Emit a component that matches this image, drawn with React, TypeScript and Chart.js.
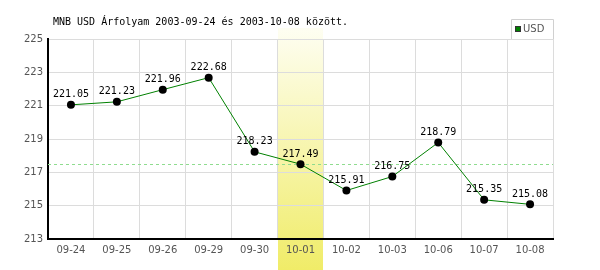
import React, { useEffect, useRef } from "react";
import { Chart, registerables } from "chart.js";

Chart.register(...registerables);

const TITLE = "MNB USD Árfolyam 2003-09-24 és 2003-10-08 között.";
const SERIES_NAME = "USD";
const categories = ["09-24", "09-25", "09-26", "09-29", "09-30", "10-01", "10-02", "10-03", "10-06", "10-07", "10-08"];
const usdValues = [221.05, 221.23, 221.96, 222.68, 218.23, 217.49, 215.91, 216.75, 218.79, 215.35, 215.08];
const highlightIndex = 5;
const referenceValue = 217.49;
const yMin = 213;
const yMax = 225;
const yStep = 2;

const MONO = "'DejaVu Sans Mono', monospace";
const SANS = "'DejaVu Sans', sans-serif";

const decorPlugin = {
  id: "decor",
  beforeDraw(chart: any) {
    const { ctx, chartArea } = chart;
    const x = chart.scales.x;
    const c = x.getPixelForValue(highlightIndex);
    const half = (chartArea.right - chartArea.left) / categories.length / 2;
    const left = Math.round(c - half);
    const right = Math.round(c + half);
    const top = 28;
    const bottom = chart.height;
    const g = ctx.createLinearGradient(0, top, 0, bottom);
    g.addColorStop(0, "#fefef2");
    g.addColorStop(1, "#f0ec68");
    ctx.save();
    ctx.fillStyle = g;
    ctx.fillRect(left, top, right - left, bottom - top);
    ctx.restore();
  },
  beforeDatasetsDraw(chart: any) {
    const { ctx, chartArea } = chart;
    const y = Math.round(chart.scales.y.getPixelForValue(referenceValue)) + 0.5;
    ctx.save();
    ctx.strokeStyle = "#8fdc8f";
    ctx.lineWidth = 1;
    ctx.setLineDash([3, 3]);
    ctx.beginPath();
    ctx.moveTo(chartArea.left, y);
    ctx.lineTo(chartArea.right, y);
    ctx.stroke();
    ctx.restore();
  },
  afterDatasetsDraw(chart: any) {
    const { ctx, chartArea } = chart;
    const meta = chart.getDatasetMeta(0);
    ctx.save();
    ctx.font = `10px ${MONO}`;
    ctx.fillStyle = "#000";
    ctx.textAlign = "center";
    ctx.textBaseline = "bottom";
    meta.data.forEach((pt: any, i: number) => {
      ctx.fillText(usdValues[i].toFixed(2), pt.x, pt.y - 5);
    });
    // title
    ctx.textAlign = "left";
    ctx.textBaseline = "middle";
    ctx.fillText(TITLE, 53, 22);
    // legend
    const lx = chartArea.right - 42;
    ctx.strokeStyle = "#d0d0d0";
    ctx.lineWidth = 1;
    ctx.fillStyle = "#fff";
    ctx.fillRect(lx + 0.5, 19.5, 41, chartArea.top - 19.5);
    ctx.beginPath();
    ctx.moveTo(lx + 0.5, chartArea.top);
    ctx.lineTo(lx + 0.5, 19.5);
    ctx.lineTo(chartArea.right + 0.5, 19.5);
    ctx.lineTo(chartArea.right + 0.5, chartArea.top);
    ctx.stroke();
    ctx.fillStyle = "#008000";
    ctx.fillRect(lx + 4, 26, 6, 6);
    ctx.strokeStyle = "#333";
    ctx.strokeRect(lx + 4.5, 26.5, 5, 5);
    ctx.fillStyle = "#555";
    ctx.font = `10px ${SANS}`;
    ctx.textBaseline = "middle";
    ctx.fillText(SERIES_NAME, lx + 12, 29.5);
    ctx.restore();
  },
};

export default function App() {
  const ref = useRef<HTMLCanvasElement | null>(null);
  useEffect(() => {
    if (!ref.current) return;
    const chart = new Chart(ref.current, {
      type: "line",
      data: {
        labels: categories,
        datasets: [
          {
            label: SERIES_NAME,
            data: usdValues,
            borderColor: "#008000",
            backgroundColor: "#000",
            borderWidth: 1,
            pointRadius: 4,
            pointBackgroundColor: "#000",
            pointBorderWidth: 0,
            tension: 0,
          },
        ],
      },
      options: {
        animation: false,
        responsive: false,
        devicePixelRatio: 1,
        layout: { padding: { top: 39, right: 47, left: 0, bottom: 0 } },
        plugins: { legend: { display: false }, tooltip: { enabled: false }, title: { display: false } },
        scales: {
          x: {
            type: "category",
            offset: true,
            grid: { color: "#dcdcdc", drawTicks: false, offset: true },
            border: { color: "#000", width: 2 },
            ticks: { color: "#555", font: { family: SANS, size: 10 }, padding: 5, maxRotation: 0, autoSkip: false },
            afterFit(scale: any) {
              scale.height = 31;
            },
          },
          y: {
            min: yMin,
            max: yMax,
            grid: { color: "#dcdcdc", drawTicks: false },
            border: { color: "#000", width: 2 },
            ticks: { stepSize: yStep, color: "#555", font: { family: SANS, size: 10 }, padding: 5 },
            afterFit(scale: any) {
              scale.width = 48;
            },
          },
        },
      },
      plugins: [decorPlugin],
    });
    return () => chart.destroy();
  }, []);
  return (
    <div style={{ position: "fixed", left: 0, top: 0, width: 600, height: 270, background: "#fff" }}>
      <canvas ref={ref} width={600} height={270} />
    </div>
  );
}
